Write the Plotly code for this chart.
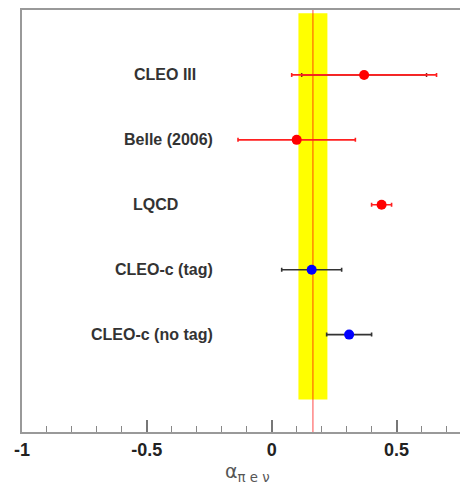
import plotly.graph_objects as go

# Measurements of the form-factor shape parameter alpha for D -> pi e nu
labels = ["CLEO III", "Belle (2006)", "LQCD", "CLEO-c (tag)", "CLEO-c (no tag)"]
values = [0.37, 0.10, 0.44, 0.16, 0.31]
err_total = [0.29, 0.235, 0.04, 0.12, 0.09]
err_inner = [0.25, None, None, None, None]
marker_colors = ["#ff0000", "#ff0000", "#ff0000", "#0000ff", "#0000ff"]
bar_colors = ["#ff2020", "#ff2020", "#ff2020", "#333333", "#333333"]
rows = [5, 4, 3, 2, 1]

# Combined average shown as a band
avg_value = 0.165
avg_error = 0.058

# Horizontal placement of the row labels (data units)
label_x = [-0.427, -0.415, -0.467, -0.431, -0.479]

tick_vals = [-1, -0.5, 0, 0.5]
tick_text = ["-1", "-0.5", "0", "0.5"]

fig = go.Figure()

# average band and central line
fig.add_shape(type="rect", x0=avg_value - avg_error, x1=avg_value + avg_error,
              y0=0, y1=5.95, fillcolor="#ffff00", line_width=0, layer="below")
fig.add_shape(type="line", x0=avg_value, x1=avg_value, y0=-0.5, y1=6,
              line=dict(color="rgba(255,0,0,0.6)", width=1.2), layer="below")

for i in range(len(labels)):
    if err_inner[i] is not None:
        fig.add_trace(go.Scatter(
            x=[values[i]], y=[rows[i]], mode="markers",
            marker=dict(size=1, color=bar_colors[i], opacity=0),
            error_x=dict(type="data", array=[err_inner[i]], color="#802020",
                         thickness=1.5, width=2),
            showlegend=False, hoverinfo="skip"))
    fig.add_trace(go.Scatter(
        x=[values[i]], y=[rows[i]], mode="markers",
        marker=dict(size=10, color=marker_colors[i]),
        error_x=dict(type="data", array=[err_total[i]], color=bar_colors[i],
                     thickness=1.6, width=2),
        showlegend=False, name=labels[i]))
    fig.add_annotation(x=label_x[i], y=rows[i], text="<b>%s</b>" % labels[i],
                       showarrow=False, xanchor="center", yanchor="middle",
                       font=dict(family="Liberation Sans, Arial", size=16, color="#333333"))

fig.add_annotation(xref="paper", yref="paper", x=0.515, y=-0.097,
                   text="α<sub>π e ν</sub>", showarrow=False,
                   xanchor="center", yanchor="middle",
                   font=dict(family="DejaVu Sans, Liberation Sans", size=19, color="#555555"))

fig.update_xaxes(range=[-1, 0.754], showgrid=False, zeroline=False,
                 showline=True, linecolor="#999999", linewidth=2, mirror=True,
                 tickmode="array", tickvals=tick_vals,
                 ticktext=["<b>%s</b>" % t for t in tick_text],
                 ticks="inside", ticklen=12, tickwidth=1.5, tickcolor="#777777",
                 tickfont=dict(family="Liberation Sans, Arial", size=18, color="#222222"),
                 minor=dict(ticks="inside", ticklen=6, tickwidth=1.2,
                            tickcolor="#888888", dtick=0.1, showgrid=False))
fig.update_yaxes(range=[-0.5, 6], showgrid=False, zeroline=False,
                 showticklabels=False, ticks="",
                 showline=True, linecolor="#999999", linewidth=2, mirror=False)

fig.update_layout(width=460, height=486,
                  margin=dict(l=22, r=0, t=10, b=54),
                  paper_bgcolor="white", plot_bgcolor="white")

fig.write_html("out.html")
